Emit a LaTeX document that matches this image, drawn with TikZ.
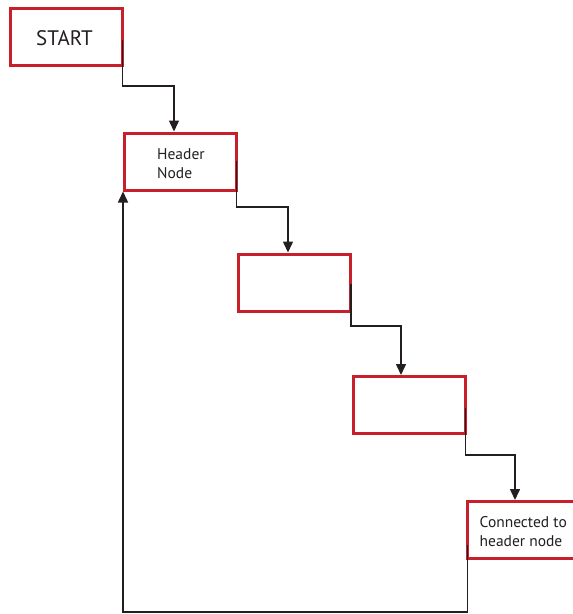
\documentclass[tikz,border=0pt]{standalone}
\usepackage{fontspec}
\setmainfont{PT Sans}
\usetikzlibrary{arrows.meta,calc}
\definecolor{boxred}{HTML}{C8202A}
\definecolor{linegray}{HTML}{231F20}
\tikzset{
  box/.style={draw=boxred, line width=3pt, minimum width=112pt, minimum height=57pt, inner sep=0pt, fill=white},
  conn/.style={draw=linegray, line width=1.5pt, -{Triangle[width=10pt,length=11pt]}},
  lbl/.style={align=left, font=\fontsize{15.5pt}{19pt}\selectfont, text=linegray, inner sep=0pt}
}
\begin{document}
\begin{tikzpicture}[x=1pt,y=1pt]
\useasboundingbox (0,0) rectangle (573,-614);
% boxes
\node[box] (start) at (66,-37) {};
\node[font=\fontsize{21pt}{24pt}\selectfont, text=linegray] (starttxt) at (64.5,-38) {START};
\node[box] (header) at (180.5,-161.5) {};
\node[lbl, anchor=west] (headertxt) at (157,-163.5) {Header\\Node};
\node[box] (b3) at (294.5,-282.5) {};
\node[box] (b4) at (409.5,-405) {};
\node[box, minimum width=130pt] (b5) at (532.5,-530) {};
\node[lbl, anchor=west] (b5txt) at (479.5,-531.5) {Connected to\\header node};
% connectors
\coordinate (s1) at (122.5,-40);
\coordinate (s2) at (236.5,-161);
\coordinate (s3) at (351,-284);
\coordinate (s4) at (465.5,-408);
\coordinate (s5) at (467.5,-545);
\coordinate (h1) at (174,-86);
\coordinate (h2) at (288,-207);
\coordinate (h3) at (401,-326);
\coordinate (h4) at (515,-455);
\coordinate (bot) at (467.5,-612);
\draw[conn] (s1) |- (h1) -- (h1 |- header.north);
\draw[conn] (s2) |- (h2) -- (h2 |- b3.north);
\draw[conn] (s3) |- (h3) -- (h3 |- b4.north);
\draw[conn] (s4) |- (h4) -- (h4 |- b5.north);
\draw[conn] (s5) -- (bot) -| (header.south west);
\end{tikzpicture}
\end{document}
